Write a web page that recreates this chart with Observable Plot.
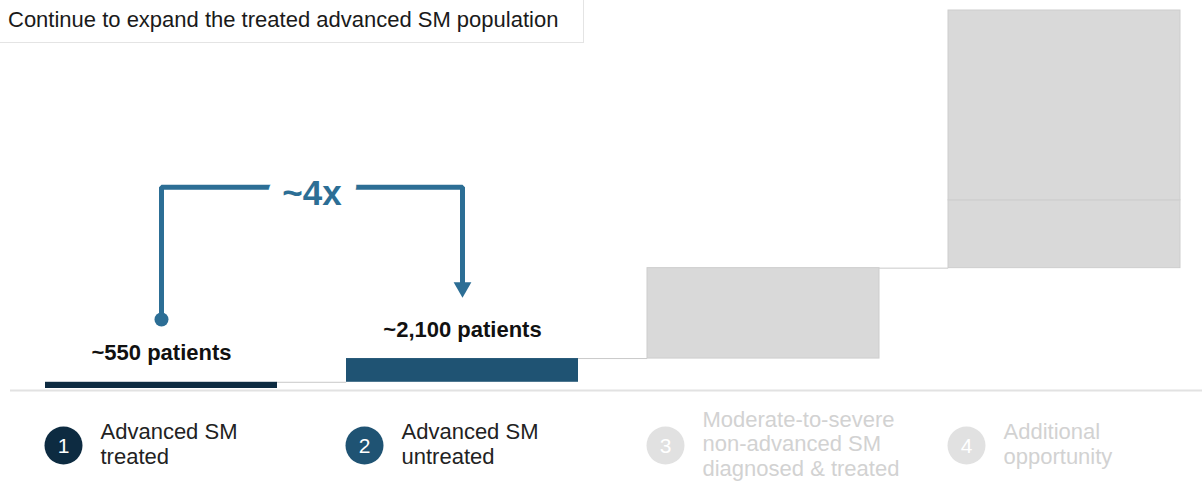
<!DOCTYPE html>
<html>
<head>
<meta charset="utf-8">
<script src="https://cdn.jsdelivr.net/npm/d3@7"></script>
<script src="https://cdn.jsdelivr.net/npm/@observablehq/plot@0.6"></script>
<style>
  body { margin: 0; background: #fff; font-family: "Liberation Sans", Arial, sans-serif; }
  #wrap { position: relative; width: 1202px; height: 481px; }
  #title {
    position: absolute; left: 0; top: 0; width: 575px; height: 42px;
    padding-left: 8px; box-sizing: content-box;
    border-right: 1px solid #e4e4e4; border-bottom: 1px solid #e4e4e4;
    font-size: 22px; line-height: 40px; color: #1a1a1a; background: #fff;
  }
</style>
</head>
<body>
<div id="wrap">
  <div id="chart"></div>
  <div id="title">Continue to expand the treated advanced SM population</div>
</div>
<script>
// Patient-population steps
const steps = ["1", "2", "3", "4"];
const stepLabels = [
  "Advanced SM\ntreated",
  "Advanced SM\nuntreated",
  "Moderate-to-severe\nnon-advanced SM\ndiagnosed & treated",
  "Additional\nopportunity"
];
// Waterfall segments (patients); step 4 is split in two stacked parts
const segmentSteps = ["1", "2", "3", "4", "4"];
const segmentValues = [550, 2100, 8000, 6000, 16800];
const valueLabels = ["~550 patients", "~2,100 patients"];
// "~4x" bracket from step 1 to step 2 (in patient units on the y scale)
const multipleLabel = "~4x";
const bracketStart = 6100;
const bracketTop = 17800;
const bracketEnd = 8940;

// Styling
const stepFill = {"1": "#0d2b41", "2": "#1f5373", "3": "#d9d9d9", "4": "#d9d9d9"};
const badgeFill = {"1": "#0d2b41", "2": "#1f5373", "3": "#e1e1e1", "4": "#e1e1e1"};
const labelFill = {"1": "#222222", "2": "#222222", "3": "#d2d2d2", "4": "#d2d2d2"};
const accent = "#2c6e95";

// Build waterfall table
let cum = 0;
const segments = segmentValues.map((v, i) => {
  const d = {step: segmentSteps[i], y1: cum, y2: cum + v};
  cum += v;
  return d;
});
const stepTop = steps.map(s => d3.max(segments.filter(d => d.step === s), d => d.y2));
const connectors = steps.slice(0, -1).map((s, i) => ({from: s, to: steps[i + 1], y: stepTop[i]}));
const labelled = valueLabels.map((t, i) => ({step: steps[i], y: stepTop[i], text: t}));

const W = 1202, H = 481;
const mL = 45, mR = 22, pad = 0.23;
const stepPx = (W - mL - mR) / (steps.length - pad);
const bw = stepPx * (1 - pad);

const bracket = [
  {step: "1", y: bracketStart},
  {step: "1", y: bracketTop},
  {step: "2", y: bracketTop},
  {step: "2", y: bracketEnd}
];

const chart = Plot.plot({
  width: W,
  height: H,
  marginLeft: mL,
  marginRight: mR,
  marginTop: 10,
  marginBottom: 93,
  style: {fontFamily: "'Liberation Sans', Arial, sans-serif", background: "transparent"},
  x: {domain: steps, paddingInner: pad, paddingOuter: 0, axis: null},
  y: {domain: [0, cum], axis: null},
  marks: [
    // baseline
    Plot.ruleY([0], {stroke: "#e2e2e2", strokeWidth: 2, dy: 2, insetLeft: -35, insetRight: -mR}),
    // connectors between steps
    Plot.ruleY(connectors, {x1: "from", x2: "to", y: "y", insetLeft: bw, insetRight: bw, stroke: "#c9c9c9", strokeWidth: 1}),
    // waterfall bars
    Plot.barY(segments, {
      x: "step", y1: "y1", y2: "y2",
      fill: d => stepFill[d.step],
      stroke: d => (d.step === "3" || d.step === "4") ? "#cdcdcd" : "none",
      strokeWidth: 1
    }),
    // value labels
    Plot.text(labelled, {x: "step", y: "y", text: "text", dy: -29, fontSize: 22, fontWeight: "bold", fill: "#111"}),
    // ~4x bracket
    Plot.line(bracket, {x: "step", y: "y", stroke: accent, strokeWidth: 5, strokeLinejoin: "miter", curve: "linear"}),
    Plot.dot([bracket[0]], {x: "step", y: "y", r: 7, fill: accent}),
    Plot.dot([bracket[3]], {x: "step", y: "y", r: 6.6, symbol: "triangle", rotate: 180, fill: accent}),
    Plot.text([multipleLabel], {
      x: () => "1", y: () => bracketTop, text: d => d, dx: stepPx / 2,
      fontSize: 35, fontWeight: "bold", fill: accent,
      stroke: "white", strokeWidth: 30, lineAnchor: "middle", dy: 6
    }),
    // numbered badges and step names
    Plot.dot(steps, {x: d => d, y: () => 0, r: 19, fill: d => badgeFill[d], dx: -98, dy: 57}),
    Plot.text(steps, {x: d => d, y: () => 0, text: d => d, dx: -98, dy: 58, fill: "white", fontSize: 21}),
    Plot.text(steps, {
      x: d => d, y: () => 0, text: (d, i) => stepLabels[i], dx: -61, dy: 55,
      textAnchor: "start", lineAnchor: "middle", lineHeight: 1.12,
      fontSize: 22, fill: d => labelFill[d]
    })
  ]
});
document.getElementById("chart").appendChild(chart);
</script>
</body>
</html>
